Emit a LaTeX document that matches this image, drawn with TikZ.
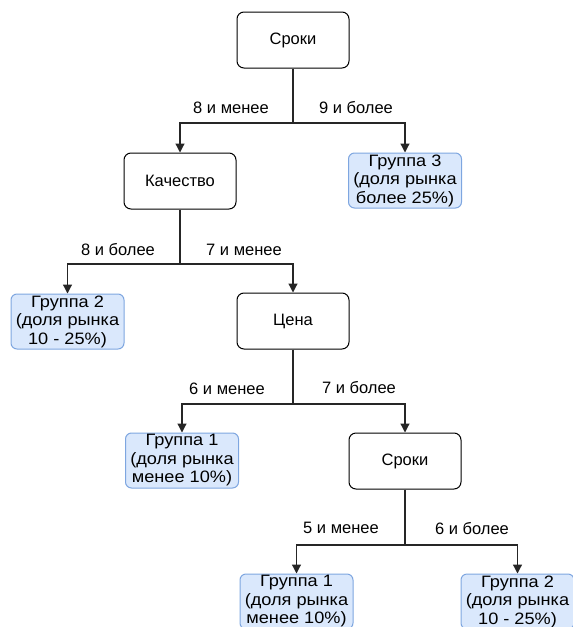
\documentclass[tikz,border=0pt]{standalone}
\usepackage{fontspec}
\setmainfont{Liberation Sans}
\newfontfamily\leaffont[FakeStretch=1.1]{Liberation Sans}
\usetikzlibrary{arrows.meta}
\definecolor{leaffill}{HTML}{DAE8FC}
\definecolor{leafdraw}{HTML}{7EA6E0}
\begin{document}
\begin{tikzpicture}[x=1pt,y=-1pt,
  every node/.style={font=\fontsize{16.5}{18.5}\selectfont},
  decision/.style={draw=black, line width=1pt, rounded corners=7pt, minimum width=112pt, minimum height=56pt, inner sep=0pt},
  leaf/.style={draw=leafdraw, fill=leaffill, line width=1pt, rounded corners=6pt, minimum width=113pt, minimum height=55pt, inner sep=0pt, align=center, font=\leaffont\fontsize{16.5}{18.5}\selectfont},
  conn/.style={line width=1.2pt, draw=black!85},
  arr/.style={conn, -{Triangle[width=9pt,length=9pt]}},
  lbl/.style={inner sep=0pt}
]
\useasboundingbox (0,0) rectangle (573,627);
\clip (0,0) rectangle (573,627);

% nodes
\node[decision] (root) at (293,40) {Сроки};
\node[decision] (kach) at (180,181) {Качество};
\node[leaf] (g3) at (405,180.5) {Группа 3\\(доля рынка\\более 25\%)};
\node[leaf] (g2a) at (67.5,321.5) {Группа 2\\(доля рынка\\10 - 25\%)};
\node[decision] (price) at (293,321) {Цена};
\node[leaf] (g1a) at (182,460.5) {Группа 1\\(доля рынка\\менее 10\%)};
\node[decision] (srok2) at (405,461) {Сроки};
\node[leaf] (g1b) at (296.5,601.5) {Группа 1\\(доля рынка\\менее 10\%)};
\node[leaf] (g2b) at (517.5,601.5) {Группа 2\\(доля рынка\\10 - 25\%)};

% junctions
\coordinate (j1) at (293,123);
\coordinate (j2) at (180,264);
\coordinate (j3) at (293,404);
\coordinate (j4) at (405,545);

% connectors
\draw[conn] (root) -- (j1);
\draw[arr] (j1) -| (kach);
\draw[arr] (j1) -| (g3);
\draw[conn] (kach) -- (j2);
\draw[arr] (j2) -| (g2a);
\draw[arr] (j2) -| (price);
\draw[conn] (price) -- (j3);
\draw[arr] (j3) -| (g1a);
\draw[arr] (j3) -| (srok2);
\draw[conn] (srok2) -- (j4);
\draw[arr] (j4) -| (g1b);
\draw[arr] (j4) -| (g2b);

% labels
\node[lbl] (l1) at (231,108) {8 и менее};
\node[lbl] (l2) at (356,108) {9 и более};
\node[lbl] (l3) at (118,250) {8 и более};
\node[lbl] (l4) at (244,250) {7 и менее};
\node[lbl] (l5) at (227,389) {6 и менее};
\node[lbl] (l6) at (359,388) {7 и более};
\node[lbl] (l7) at (341,528) {5 и менее};
\node[lbl] (l8) at (472,529) {6 и более};
\end{tikzpicture}
\end{document}
